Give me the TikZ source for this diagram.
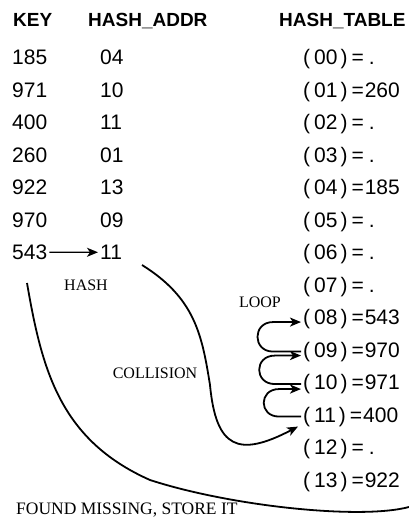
\documentclass[tikz,border=0pt]{standalone}
\usepackage{fontspec}
\setmainfont{Liberation Serif}
\newfontfamily\numfont{Liberation Sans}
\usetikzlibrary{arrows.meta}
\newcommand{\hashslot}[2]{(\kern4pt#1\kern3pt)\kern4pt=\kern1pt#2}

\begin{document}
\begin{tikzpicture}[x=1pt,y=-1pt]
    % Define styles for texts and arrows
    \tikzstyle{header} = [anchor=base west, inner sep=2pt, font=\numfont\bfseries\fontsize{19}{23}\selectfont]
    \tikzstyle{entry} = [anchor=base west, inner sep=2pt, font=\numfont\fontsize{21}{25}\selectfont]
    \tikzstyle{note} = [inner sep=0pt, font=\fontsize{16}{19}\selectfont]
    \tikzstyle{hasharrow} = [line width=1.8pt, -{Stealth[length=11pt,width=9pt,inset=3pt]}]
    \useasboundingbox (0,0) rectangle (409,519);

    % Draw headers
    \node[header] (keyhead) at (11,26.5) {KEY};
    \node[header] (addrhead) at (86,26.5) {HASH\_ADDR};
    \node[header] (tablehead) at (277,26.5) {HASH\_TABLE};

    % Draw keys and hash addresses
    \node[entry] (key0) at (10,64.5) {185};
    \node[entry] (key1) at (10,97) {971};
    \node[entry] (key2) at (10,129.5) {400};
    \node[entry] (key3) at (10,162) {260};
    \node[entry] (key4) at (10,194.5) {922};
    \node[entry] (key5) at (10,227) {970};
    \node[entry] (key6) at (10,259.5) {543};
    \node[entry] (addr0) at (98,64.5) {04};
    \node[entry] (addr1) at (98,97) {10};
    \node[entry] (addr2) at (98,129.5) {11};
    \node[entry] (addr3) at (98,162) {01};
    \node[entry] (addr4) at (98,194.5) {13};
    \node[entry] (addr5) at (98,227) {09};
    \node[entry] (addr6) at (98,259.5) {11};

    % Draw hash table
    \node[entry] (slot00) at (301,64.5) {\hashslot{00}{\kern4pt.}};
    \node[entry] (slot01) at (301,97) {\hashslot{01}{260}};
    \node[entry] (slot02) at (301,129.5) {\hashslot{02}{\kern4pt.}};
    \node[entry] (slot03) at (301,162) {\hashslot{03}{\kern4pt.}};
    \node[entry] (slot04) at (301,194.5) {\hashslot{04}{185}};
    \node[entry] (slot05) at (301,227) {\hashslot{05}{\kern4pt.}};
    \node[entry] (slot06) at (301,259.5) {\hashslot{06}{\kern4pt.}};
    \node[entry] (slot07) at (301,292) {\hashslot{07}{\kern4pt.}};
    \node[entry] (slot08) at (301,324.5) {\hashslot{08}{543}};
    \node[entry] (slot09) at (301,357) {\hashslot{09}{970}};
    \node[entry] (slot10) at (301,389.5) {\hashslot{10}{971}};
    \node[entry] (slot11) at (301,422) {\hashslot{11}{400}};
    \node[entry] (slot12) at (301,454.5) {\hashslot{12}{\kern4pt.}};
    \node[entry] (slot13) at (301,487) {\hashslot{13}{922}};

    % Draw labels
    \node[note] (hash) at (86,285) {HASH};
    \node[note] (collision) at (155,373) {COLLISION};
    \node[note] (loop) at (260,302) {LOOP};
    \node[note, anchor=west, font=\fontsize{17.5}{20}\selectfont] (found) at (16,510) {FOUND MISSING, STORE IT};

    % Draw arrows
    \draw[line width=1.3pt, -{Stealth[length=11pt,width=9pt,inset=3pt]}] (key6.east) -- (addr6.west);
    \coordinate (hash start) at (142,265);
    \draw[hasharrow] (hash start) .. controls (195,298) and (202,335) .. (210,385)
        .. controls (216,448) and (238,458) .. ([xshift=-3pt,yshift=-10pt]slot11.west);
    \draw[hasharrow] (slot09.west) -- ++(-28pt,0)
        to[out=180,in=180,looseness=1.8] ([xshift=-28pt,yshift=-3pt]slot08.west) -- ([yshift=-3pt]slot08.west);
    \draw[hasharrow] (slot10.west) -- ++(-26pt,0)
        to[out=180,in=180,looseness=1.9] ([xshift=-26pt,yshift=-4pt]slot09.west) -- ([yshift=-4pt]slot09.west);
    \draw[hasharrow] (slot11.west) -- ++(-22pt,0)
        to[out=180,in=180,looseness=1.9] ([xshift=-22pt,yshift=-5pt]slot10.west) -- ([yshift=-5pt]slot10.west);
    \coordinate (miss start) at (27,283);
    \coordinate (miss end) at (409,507);
    \draw[line width=1.8pt] (miss start) .. controls (42,370) and (60,440) .. (150,480)
        .. controls (230,506) and (360,520) .. (miss end);
\end{tikzpicture}
\end{document}
